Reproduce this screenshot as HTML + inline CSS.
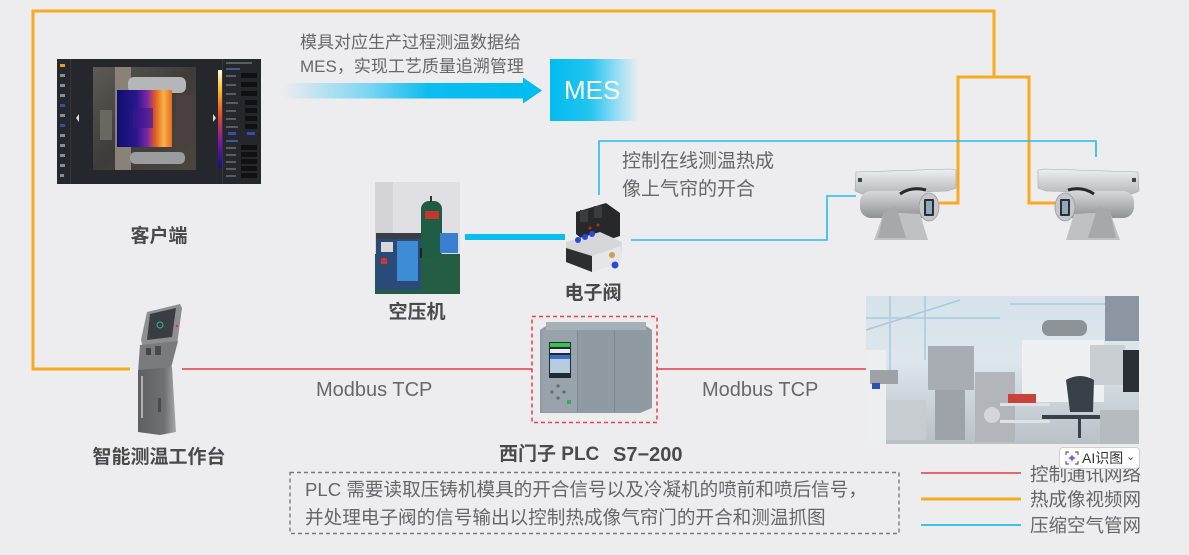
<!DOCTYPE html>
<html><head><meta charset="utf-8">
<style>
*{margin:0;padding:0;box-sizing:border-box}
body{width:1189px;height:555px;background:#ededef;position:relative;overflow:hidden;font-family:"Liberation Sans","Noto Sans CJK SC",sans-serif;color:#666}
.a{position:absolute;white-space:nowrap}
.b{font-weight:bold;color:#4a4a4a;font-size:19px;text-align:center;line-height:26px}
</style></head><body>
<svg width="1189" height="555" style="position:absolute;left:0;top:0">
<defs>
<linearGradient id="arr" x1="0" x2="1" y1="0" y2="0">
<stop offset="0" stop-color="#ededef"/><stop offset="0.35" stop-color="#7fd6f2"/><stop offset="0.6" stop-color="#0dbdf0"/><stop offset="1" stop-color="#00bcef"/></linearGradient>
<linearGradient id="mes" x1="0" x2="1" y1="0" y2="0">
<stop offset="0" stop-color="#00bcef"/><stop offset="0.45" stop-color="#22c4f0"/><stop offset="0.8" stop-color="#a4e0f4"/><stop offset="1" stop-color="#e8eef1"/></linearGradient>
<linearGradient id="therm" x1="0" x2="1" y1="0" y2="0">
<stop offset="0" stop-color="#0e1070"/><stop offset="0.35" stop-color="#2a168a"/><stop offset="0.55" stop-color="#7a26a8"/><stop offset="0.7" stop-color="#e2601e"/><stop offset="0.85" stop-color="#f8b24a"/><stop offset="1" stop-color="#e86a1c"/></linearGradient>
<linearGradient id="cbar" x1="0" x2="0" y1="0" y2="1">
<stop offset="0" stop-color="#fffbe0"/><stop offset="0.2" stop-color="#f8c030"/><stop offset="0.45" stop-color="#e8501c"/><stop offset="0.7" stop-color="#8a1aa0"/><stop offset="1" stop-color="#10108a"/></linearGradient>
<linearGradient id="photo" x1="0" x2="1" y1="0" y2="1">
<stop offset="0" stop-color="#5e5a54"/><stop offset="0.5" stop-color="#3e3c3a"/><stop offset="1" stop-color="#4a4640"/></linearGradient>
<linearGradient id="fac" x1="0" x2="0" y1="0" y2="1">
<stop offset="0" stop-color="#d6e3ec"/><stop offset="0.45" stop-color="#dde6ec"/><stop offset="1" stop-color="#b9c0c6"/></linearGradient>
<linearGradient id="silver" x1="0" x2="0" y1="0" y2="1">
<stop offset="0" stop-color="#eeeff1"/><stop offset="1" stop-color="#b6b8bc"/></linearGradient>
<linearGradient id="cyl" x1="0" x2="0" y1="0" y2="1">
<stop offset="0" stop-color="#d8d9dc"/><stop offset="0.5" stop-color="#b4b6ba"/><stop offset="1" stop-color="#8e9094"/></linearGradient>
<linearGradient id="kio" x1="0" x2="1" y1="0" y2="0">
<stop offset="0" stop-color="#5e5f62"/><stop offset="0.7" stop-color="#707174"/><stop offset="1" stop-color="#a8a9ac"/></linearGradient>
<g id="cam">
<path d="M856,172 L950,169 L956,170 L956,188 L948,191 L862,194 L855,191 Z" fill="url(#silver)" stroke="#a8aaae" stroke-width="0.6"/>
<rect x="860" y="191" width="74" height="27" rx="11" fill="url(#cyl)"/>
<path d="M900,194 Q912,186 926,190" stroke="#2a2a2c" stroke-width="3" fill="none"/>
<path d="M874,240 L928,240 L920,214 L884,212 Z" fill="#bfc1c5"/>
<path d="M884,212 L896,206 L906,238 L878,238 Z" fill="#a6a8ac"/>
<ellipse cx="929" cy="207" rx="10" ry="14" fill="#c4c6ca" stroke="#9a9ca0" stroke-width="0.8"/>
<rect x="924" y="199" width="10" height="17" rx="1" fill="#2a2e36"/>
<rect x="926" y="201" width="6" height="13" fill="#8fa8bc"/>
<rect x="858" y="178" width="4" height="4" fill="#444"/>
</g>
</defs>

<!-- MES arrow -->
<rect x="282" y="83" width="242" height="15.5" fill="url(#arr)"/>
<polygon points="523,77.5 542,90.5 523,103.5" fill="#00bcef"/>
<rect x="550" y="59" width="88" height="62" fill="url(#mes)"/>

<!-- orange network -->
<g fill="none" stroke="#f8ab1f" stroke-width="3">
<polyline points="130,369 33,369 33,11 994,11 994,77"/>
<polyline points="939,203 958,203 958,77 1029,77 1029,203 1055,203"/>
</g>
<!-- blue network -->
<g fill="none" stroke="#24bdee" stroke-width="1.6">
<polyline points="599,195 599,141 1096,141 1096,157"/>
<polyline points="631,240 827,240 827,196 856,196"/>
</g>
<line x1="465" y1="237" x2="565" y2="237" stroke="#0abdf0" stroke-width="6"/>
<!-- red network -->
<g stroke="#e33d45" stroke-width="1.5">
<line x1="182" y1="369" x2="532" y2="369"/>
<line x1="657" y1="369" x2="866" y2="369"/>
</g>

<!-- client screenshot -->
<rect x="57" y="59" width="204" height="125" fill="#25272c"/>
<rect x="70" y="59" width="1" height="125" fill="#33363c"/>
<rect x="222" y="59" width="1" height="125" fill="#33363c"/>
<g fill="#8a8c92">
<rect x="60" y="64" width="5" height="3" fill="#e0a020"/><rect x="60" y="74" width="5" height="3"/><rect x="60" y="84" width="5" height="3"/><rect x="60" y="94" width="5" height="3"/><rect x="60" y="104" width="5" height="3" fill="#3050a0"/><rect x="60" y="114" width="5" height="3"/><rect x="60" y="124" width="5" height="3" fill="#3050a0"/><rect x="60" y="134" width="5" height="3"/><rect x="60" y="144" width="5" height="3"/><rect x="60" y="154" width="5" height="3"/><rect x="60" y="164" width="5" height="3"/><rect x="60" y="174" width="4" height="3"/>
</g>
<rect x="93" y="67" width="103" height="103" fill="url(#photo)"/>
<rect x="115" y="67" width="16" height="103" fill="#8a8276"/>
<rect x="128" y="77" width="58" height="16" rx="6" fill="#b4b6b8"/>
<rect x="130" y="152" width="55" height="12" rx="5" fill="#9a9c9e"/>
<rect x="100" y="110" width="12" height="30" fill="#6a6660"/>
<rect x="176" y="95" width="18" height="50" fill="#4a4040"/>
<rect x="117" y="90" width="55" height="57" fill="url(#therm)"/>
<rect x="133" y="108" width="20" height="20" fill="#3a1890" opacity="0.6"/>
<rect x="218" y="70" width="4" height="98" fill="url(#cbar)"/>
<polygon points="76,118 79,114 79,122" fill="#ddd"/>
<polygon points="213,114 216,118 213,122" fill="#ddd"/>
<g fill="#5a5c62">
<rect x="226" y="62" width="26" height="2"/><rect x="226" y="68" width="14" height="2" fill="#3a5a90"/>
<rect x="226" y="75" width="10" height="2"/><rect x="241" y="73" width="16" height="5" fill="#111"/>
<rect x="226" y="84" width="10" height="2"/><rect x="241" y="82" width="16" height="5" fill="#111"/>
<rect x="226" y="93" width="10" height="2"/><rect x="241" y="91" width="16" height="5" fill="#111"/>
<rect x="226" y="102" width="12" height="2"/><rect x="245" y="100" width="12" height="5" fill="#111"/>
<rect x="226" y="110" width="10" height="2"/><rect x="245" y="108" width="12" height="5" fill="#111"/>
<rect x="226" y="118" width="10" height="2"/><rect x="245" y="116" width="12" height="5" fill="#111"/>
<rect x="226" y="126" width="12" height="2"/><rect x="245" y="124" width="12" height="5" fill="#111"/>
<rect x="228" y="132" width="8" height="3" fill="#3050b0"/><rect x="247" y="132" width="8" height="3" fill="#3050b0"/>
<rect x="226" y="140" width="12" height="2" fill="#3a5a90"/>
<rect x="226" y="147" width="10" height="2"/><rect x="241" y="145" width="16" height="5" fill="#111"/>
<rect x="226" y="154" width="10" height="2"/><rect x="241" y="152" width="16" height="5" fill="#111"/>
<rect x="226" y="161" width="10" height="2"/><rect x="241" y="159" width="16" height="5" fill="#111"/>
<rect x="226" y="168" width="10" height="2"/><rect x="241" y="166" width="16" height="5" fill="#111"/>
<rect x="226" y="175" width="10" height="2"/><rect x="241" y="173" width="16" height="5" fill="#111"/>
</g>

<!-- air compressor -->
<rect x="375" y="182" width="85" height="112" fill="#e0e0e4"/>
<rect x="375" y="182" width="18" height="112" fill="#d4d4d8"/>
<rect x="375" y="254" width="85" height="40" fill="#245c44"/>
<rect x="421" y="201" width="21" height="58" rx="8" fill="#1f5c44"/>
<rect x="425" y="211" width="14" height="8" fill="#c8342e"/>
<rect x="430" y="196" width="2" height="6" fill="#333"/>
<rect x="376" y="233" width="45" height="57" fill="#2a4a78"/>
<rect x="376" y="233" width="45" height="6" fill="#3a3e44"/>
<rect x="397" y="241" width="21" height="40" fill="#3c8cd6"/>
<rect x="381" y="242" width="12" height="10" fill="#d8d8d8"/>
<rect x="381" y="258" width="6" height="6" fill="#c33"/>
<rect x="440" y="233" width="18" height="20" fill="#3a7ed0"/>
<rect x="420" y="248" width="2" height="10" fill="#222"/>

<!-- valve -->
<polygon points="576,212 606,203 620,213 620,236 590,246 576,234" fill="#26282a"/>
<rect x="580" y="210" width="8" height="12" fill="#3a3c3e"/>
<rect x="594" y="206" width="8" height="12" fill="#3a3c3e"/>
<polygon points="566,242 600,232 622,242 621,262 592,272 566,262" fill="#d6d7da"/>
<polygon points="566,248 592,256 592,272 566,262" fill="#2c2e30"/>
<polygon points="592,256 621,246 621,262 592,272" fill="#e6e6e8"/>
<circle cx="578" cy="240" r="3" fill="#2a4ad8"/>
<circle cx="585" cy="237" r="3" fill="#2a4ad8"/>
<circle cx="592" cy="234" r="3" fill="#2a4ad8"/>
<circle cx="612" cy="255" r="3" fill="#c9a050"/>
<circle cx="615" cy="265" r="3.5" fill="#2a4ad8"/>
<circle cx="590" cy="228" r="1.5" fill="#c22"/>
<circle cx="598" cy="225" r="1.5" fill="#c22"/>

<!-- cameras -->
<use href="#cam"/>
<use href="#cam" transform="translate(1994,0) scale(-1,1)"/>

<!-- kiosk -->
<polygon points="147,312 180,304 182,308 177,345 143,348 141,340" fill="#8e8f92"/>
<polygon points="150,314 176,308 172,337 147,340" fill="#3a3d42"/>
<circle cx="160" cy="325" r="3" fill="none" stroke="#2fb890" stroke-width="1"/>
<polygon points="140,345 178,341 170,372 138,372" fill="#7a7b7e"/>
<rect x="146" y="348" width="5" height="7" fill="#444"/>
<rect x="155" y="346" width="6" height="9" fill="#4a4a4c"/>
<polygon points="138,370 172,367 176,432 160,435 138,432" fill="url(#kio)"/>
<rect x="141" y="376" width="2" height="42" fill="#d0d0d2" opacity="0.7"/>
<rect x="158" y="398" width="3" height="14" fill="#4a4b4e"/>
<circle cx="177" cy="326" r="1.2" fill="#d33"/>

<!-- PLC -->
<rect x="532" y="316.5" width="125" height="106" fill="none" stroke="#e8424a" stroke-width="1.5" stroke-dasharray="4,3"/>
<polygon points="546,326 640,322 652,330 652,408 640,413 540,413 540,330" fill="#8f9aa3"/>
<rect x="546" y="322" width="100" height="8" fill="#a8b0b7"/>
<rect x="542" y="330" width="35" height="82" fill="#98a3ab"/>
<rect x="577" y="330" width="1" height="82" fill="#7d8890"/>
<rect x="614" y="330" width="1" height="82" fill="#7d8890"/>
<rect x="549" y="342" width="22" height="36" fill="#1f2a33"/>
<rect x="550" y="343" width="20" height="4" fill="#38c24a"/>
<rect x="550" y="349" width="20" height="4" fill="#e8eef4"/>
<rect x="550" y="355" width="20" height="18" fill="#b8cce0"/>
<rect x="550" y="355" width="20" height="4" fill="#3a70c8"/>
<circle cx="558" cy="386" r="1.6" fill="#606a72"/><circle cx="558" cy="398" r="1.6" fill="#606a72"/>
<circle cx="552" cy="392" r="1.6" fill="#606a72"/><circle cx="564" cy="392" r="1.6" fill="#606a72"/>
<rect x="567" y="400" width="4" height="4" fill="#2fae60"/>

<!-- factory photo -->
<rect x="866" y="296" width="273" height="148" fill="url(#fac)"/>
<g stroke="#a9c9dc" stroke-width="1.5">
<line x1="866" y1="318" x2="1000" y2="318"/><line x1="890" y1="296" x2="890" y2="380"/><line x1="925" y1="296" x2="925" y2="360"/>
<line x1="866" y1="330" x2="960" y2="300"/><line x1="1010" y1="304" x2="1139" y2="304"/>
</g>
<rect x="1105" y="296" width="34" height="45" fill="#8b96a2"/>
<rect x="1042" y="320" width="45" height="16" rx="7" fill="#8e9398"/>
<rect x="1022" y="340" width="82" height="62" fill="#eef0f2"/>
<rect x="1090" y="345" width="35" height="40" fill="#c9ced3"/>
<rect x="1123" y="350" width="16" height="42" fill="#2a2f36"/>
<rect x="928" y="346" width="46" height="44" fill="#a8adb3"/>
<rect x="935" y="390" width="30" height="50" fill="#9ea3a9"/>
<rect x="975" y="372" width="40" height="70" fill="#b2b6ba"/>
<circle cx="992" cy="415" r="8" fill="#d4d6d8"/>
<rect x="1008" y="394" width="28" height="9" fill="#c8443a"/>
<rect x="1000" y="403" width="50" height="3" fill="#dfe2e5"/>
<rect x="1000" y="420" width="50" height="3" fill="#dfe2e5"/>
<path d="M1066,380 Q1080,372 1094,380 L1093,412 L1070,412 Z" fill="#3a4048"/>
<rect x="1042" y="415" width="62" height="4" fill="#3a4048"/>
<rect x="1078" y="418" width="3" height="20" fill="#3a4048"/>
<rect x="866" y="350" width="20" height="94" fill="#eceef0"/>
<rect x="870" y="370" width="28" height="14" fill="#9ea2a6"/>
<rect x="872" y="383" width="8" height="6" fill="#2a50b0"/>
<rect x="886" y="400" width="40" height="40" fill="#c7ccd0"/>
<rect x="1100" y="410" width="39" height="34" fill="#b6bbc0"/>

<!-- description dashed box -->
<rect x="290" y="472.5" width="609" height="61" fill="none" stroke="#7a7a7c" stroke-width="1.4" stroke-dasharray="4,3"/>

<!-- legend lines -->
<line x1="921" y1="473" x2="1021" y2="473" stroke="#e33d45" stroke-width="1.5"/>
<line x1="921" y1="499" x2="1021" y2="499" stroke="#f8ab1f" stroke-width="3"/>
<line x1="921" y1="525" x2="1021" y2="525" stroke="#3ec2ec" stroke-width="2"/>
</svg>

<div class="a" style="left:300px;top:31px;font-size:17px;line-height:24px;color:#676767">模具对应生产过程测温数据给<br>MES，实现工艺质量追溯管理</div>
<div class="a" style="left:564px;top:74px;font-size:26px;line-height:32px;color:#fff">MES</div>
<div class="a" style="left:622px;top:148px;font-size:19px;line-height:28px;color:#666">控制在线测温热成<br>像上气帘的开合</div>

<div class="a b" style="left:109px;top:224px;width:100px">客户端</div>
<div class="a b" style="left:367px;top:300px;width:100px">空压机</div>
<div class="a b" style="left:543px;top:281px;width:100px">电子阀</div>
<div class="a b" style="left:79px;top:445px;width:160px">智能测温工作台</div>
<div class="a b" style="left:499px;top:442px;text-align:left">西门子 PLC</div>
<div class="a b" style="left:613px;top:442px;text-align:left;font-size:20px">S7−200</div>

<div class="a" style="left:316px;top:377px;font-size:20px;line-height:26px;color:#686868">Modbus TCP</div>
<div class="a" style="left:702px;top:377px;font-size:20px;line-height:26px;color:#686868">Modbus TCP</div>

<div class="a" style="left:305px;top:476px;font-size:18.6px;line-height:28px;color:#666">PLC 需要读取压铸机模具的开合信号以及冷凝机的喷前和喷后信号，<br>并处理电子阀的信号输出以控制热成像气帘门的开合和测温抓图</div>

<div class="a" style="left:1030px;top:462px;font-size:18.5px;line-height:26px;color:#666">控制通讯网络</div>
<div class="a" style="left:1030px;top:487px;font-size:18.5px;line-height:26px;color:#666">热成像视频网</div>
<div class="a" style="left:1030px;top:513px;font-size:18.5px;line-height:26px;color:#666">压缩空气管网</div>

<div class="a" style="left:1059px;top:447px;width:81px;height:22px;background:#fff;border:1px solid #cfcfd3;border-radius:4px;">
<svg width="14" height="14" style="position:absolute;left:5px;top:3px"><g fill="none" stroke="#444" stroke-width="1"><path d="M1,4 V1 H4 M10,1 H13 V4 M13,10 V13 H10 M4,13 H1 V10"/></g><path d="M7,3 Q7.6,6.4 11,7 Q7.6,7.6 7,11 Q6.4,7.6 3,7 Q6.4,6.4 7,3 Z" fill="#8a4ef0"/></svg>
<div class="a" style="left:22px;top:2px;font-size:14px;line-height:17px;color:#333">AI识图</div>
<div class="a" style="left:66px;top:1px;font-size:11px;line-height:17px;color:#444">⌄</div>
</div>
</body></html>
